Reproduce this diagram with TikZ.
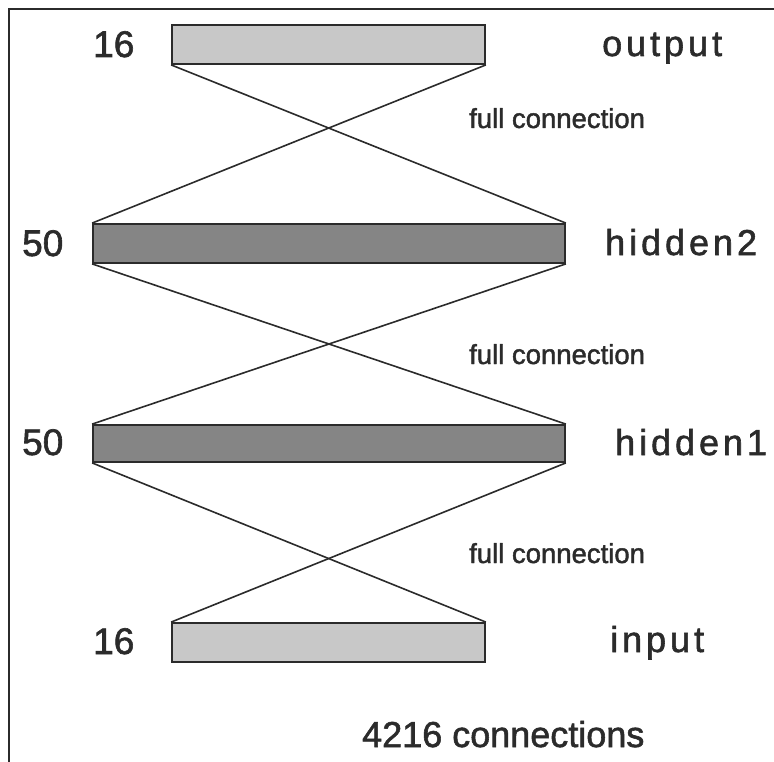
\documentclass[tikz,border=0pt]{standalone}
\usepackage{fontspec}
\setmainfont{Liberation Sans}[UprightFeatures={FakeBold=1.6}]
\newfontfamily\spacedfont{Liberation Sans}[UprightFeatures={FakeBold=1.6}, LetterSpace=11]
\usepackage{tikz}
\usetikzlibrary{positioning, calc}
\definecolor{netink}{HTML}{2B2B2B}
\definecolor{netlight}{HTML}{C8C8C8}
\definecolor{netdark}{HTML}{858585}
\tikzset{
  layerbar/.style={draw=netink, line width=1.8pt, inner sep=0pt, minimum height=39pt},
  sizelabel/.style={font=\fontsize{37}{40}\selectfont, text=netink, anchor=base west, inner sep=0pt},
  namelabel/.style={font=\fontsize{36}{40}\selectfont\spacedfont, text=netink, anchor=base west, inner sep=0pt},
  conlabel/.style={font=\fontsize{27.5}{30}\selectfont, text=netink, anchor=base west, inner sep=0pt},
  wire/.style={draw=netink, line width=1.6pt}
}
\begin{document}
\begin{tikzpicture}[x=1pt, y=-1pt]
      \useasboundingbox (0,0) rectangle (774,762);
      % frame
      \draw[netink, line width=2pt] (9,762) -- (9,9) -- (774,9);
      % layers
      \node[layerbar, fill=netlight, minimum width=313pt] (outbar) at (328.5,44.5) {};
      \node[layerbar, fill=netdark,  minimum width=472pt] (hidtwo) at (329,243.5) {};
      \node[layerbar, fill=netdark,  minimum width=472pt, minimum height=37pt] (hidone) at (329,443.5) {};
      \node[layerbar, fill=netlight, minimum width=313pt] (inbar) at (328.5,642.5) {};
      % full connections
      \draw[wire] (outbar.south west) -- (hidtwo.north east);
      \draw[wire] (outbar.south east) -- (hidtwo.north west);
      \draw[wire] (hidtwo.south west) -- (hidone.north east);
      \draw[wire] (hidtwo.south east) -- (hidone.north west);
      \draw[wire] (hidone.south west) -- (inbar.north east);
      \draw[wire] (hidone.south east) -- (inbar.north west);
      % labels
      \node[sizelabel] (nout) at (93,57) {16};
      \node[namelabel] (lout) at (602,56) {output};
      \node[conlabel] (conthree) at (469,128) {full connection};
      \node[sizelabel] (ntwo) at (22,256) {50};
      \node[namelabel] (ltwo) at (605,255) {hidden2};
      \node[conlabel] (contwo) at (469,364) {full connection};
      \node[sizelabel] (none) at (22,455) {50};
      \node[namelabel] (lone) at (615,455) {hidden1};
      \node[conlabel] (conone) at (469,563) {full connection};
      \node[sizelabel] (nin) at (93,654) {16};
      \node[namelabel] (lin) at (610,652) {input};
      \node[sizelabel, font=\fontsize{36}{40}\selectfont] (total) at (362,747) {4216 connections};
\end{tikzpicture}
\end{document}
